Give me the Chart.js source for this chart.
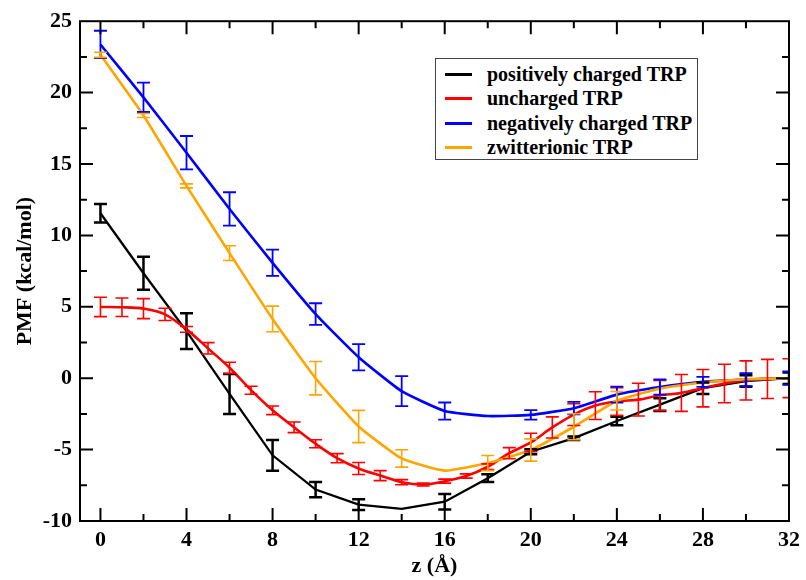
<!DOCTYPE html>
<html>
<head>
<meta charset="utf-8">
<title>PMF profiles</title>
<script src="https://cdn.jsdelivr.net/npm/chart.js@4.4.1/dist/chart.umd.min.js"></script>
<style>
  body { margin: 0; background: #fff; }
  #wrap { position: relative; width: 806px; height: 580px; }
  #legend {
    position: absolute; left: 435px; top: 58px; width: 263px; height: 102px;
    border: 1.5px solid #444; box-sizing: border-box; background: #fff;
    font: bold 20px "Liberation Serif", "Times New Roman", serif; color: #000;
  }
  #legend .row { position: absolute; left: 0; height: 24px; display: flex; align-items: center; white-space: nowrap; }
  #legend .swatch { width: 27px; height: 3px; margin-left: 9px; margin-right: 15px; }
</style>
</head>
<body>
<div id="wrap">
  <canvas id="pmfChart"></canvas>
  <div id="legend"></div>
</div>
<script>
// z positions (Å)
const zCoarse = [0, 2, 4, 6, 8, 10, 12, 14, 16, 18, 20, 22, 24, 26, 28, 30, 32];
const zFine = [0, 1, 2, 3, 4, 5, 6, 7, 8, 9, 10, 11, 12, 13, 14, 15, 16,
               17, 18, 19, 20, 21, 22, 23, 24, 25, 26, 27, 28, 29, 30, 31, 32];

// PMF (kcal/mol) and error half-widths
const positive    = [11.55, 7.35, 3.3, -1.1, -5.4, -7.8, -8.85, -9.15, -8.65, -7.0, -5.15, -4.2, -3.0, -1.85, -0.7, -0.2, 0];
const positiveErr = [0.65, 1.15, 1.25, 1.4, 1.08, 0.53, 0.38, 0, 0.54, 0.27, 0.18, 0.12, 0.3, 0.45, 0.4, 0.4, 0.4];

const uncharged    = [4.99, 4.97, 4.87, 4.47, 3.42, 2.09, 0.73, -0.84, -2.25, -3.44, -4.59, -5.6, -6.32, -6.82, -7.28, -7.45, -7.21,
                      -6.85, -6.2, -5.25, -4.5, -3.45, -2.55, -1.92, -1.63, -1.5, -1.2, -1.03, -0.7, -0.37, -0.16, -0.05, 0];
const unchargedErr = [0.68, 0.65, 0.7, 0.43, 0.2, 0.4, 0.39, 0.28, 0.3, 0.37, 0.28, 0.32, 0.42, 0.35, 0.18, 0.1, 0.14,
                      0.15, 0.2, 0.39, 0.64, 0.74, 0.76, 0.97, 0.97, 1.15, 1.05, 1.29, 1.31, 1.35, 1.37, 1.37, 1.36];

const negative    = [23.37, 19.67, 15.79, 11.85, 8.08, 4.49, 1.47, -0.91, -2.3, -2.65, -2.57, -2.1, -1.15, -0.62, -0.26, -0.1, 0];
const negativeErr = [0.96, 1.03, 1.17, 1.17, 0.92, 0.76, 0.92, 1.05, 0.6, 0, 0.33, 0.44, 0.56, 0.53, 0.35, 0.45, 0.47];

const zwitter    = [22.65, 18.4, 13.47, 8.76, 4.15, 0, -3.38, -5.62, -6.47, -5.94, -5.03, -3.4, -1.58, -0.73, -0.3, -0.07, 0];
const zwitterErr = [0.18, 0.14, 0.14, 0.52, 0.9, 1.17, 1.13, 0.61, 0, 0.53, 0.78, 0.91, 0.65, 0, 0, 0, 0];

const seriesNames  = ['positively charged TRP', 'uncharged TRP', 'negatively charged TRP', 'zwitterionic TRP'];
const seriesColors = ['#000000', '#ff0000', '#0000ff', '#ffa500'];

// axis ticks
const xLabelTicks = [0, 4, 8, 12, 16, 20, 24, 28, 32];
const xAllTicks = [0, 2, 4, 6, 8, 10, 12, 14, 16, 18, 20, 22, 24, 26, 28, 30, 32];
const yLabelTicks = [-10, -5, 0, 5, 10, 15, 20, 25];
const yAllTicks = [-7.5, -5, -2.5, 0, 2.5, 5, 7.5, 10, 12.5, 15, 17.5, 20, 22.5];

const toPoints = (xs, ys) => xs.map((x, i) => ({ x: x, y: ys[i] }));

const serif = '"Liberation Serif", "Times New Roman", serif';

// error bars with caps, drawn on top of the curves
const errorBars = {
  id: 'errorBars',
  afterDatasetsDraw(chart) {
    const { ctx, chartArea: a, scales: { x, y } } = chart;
    ctx.save();
    ctx.beginPath();
    ctx.rect(a.left, a.top, a.right - a.left, a.bottom - a.top);
    ctx.clip();
    chart.data.datasets.forEach(ds => {
      ctx.strokeStyle = ds.borderColor;
      ctx.lineWidth = ds.errWidth;
      ds.data.forEach((p, i) => {
        const e = ds.errors[i];
        if (!e) return;
        const px = x.getPixelForValue(p.x);
        const top = y.getPixelForValue(p.y + e);
        const bot = y.getPixelForValue(p.y - e);
        ctx.beginPath();
        ctx.moveTo(px, top); ctx.lineTo(px, bot);
        ctx.moveTo(px - 6.5, top); ctx.lineTo(px + 6.5, top);
        ctx.moveTo(px - 6.5, bot); ctx.lineTo(px + 6.5, bot);
        ctx.stroke();
      });
    });
    ctx.restore();
  }
};

// box frame with inward ticks on all four sides
const frameTicks = {
  id: 'frameTicks',
  afterDraw(chart) {
    const { ctx, chartArea: a, scales: { x, y } } = chart;
    ctx.save();
    ctx.strokeStyle = '#000';
    ctx.lineWidth = 2;
    ctx.strokeRect(a.left, a.top, a.right - a.left, a.bottom - a.top);
    ctx.beginPath();
    xAllTicks.forEach(v => {
      const px = x.getPixelForValue(v);
      const len = xLabelTicks.includes(v) ? 13 : 7;
      ctx.moveTo(px, a.bottom); ctx.lineTo(px, a.bottom - len);
      ctx.moveTo(px, a.top); ctx.lineTo(px, a.top + len);
    });
    yAllTicks.forEach(v => {
      const py = y.getPixelForValue(v);
      const len = yLabelTicks.includes(v) ? 13 : 7;
      ctx.moveTo(a.left, py); ctx.lineTo(a.left + len, py);
      ctx.moveTo(a.right, py); ctx.lineTo(a.right - len, py);
    });
    ctx.stroke();
    ctx.restore();
  }
};

new Chart(document.getElementById('pmfChart'), {
  type: 'line',
  data: {
    datasets: [
      { label: seriesNames[0], data: toPoints(zCoarse, positive), errors: positiveErr, errWidth: 2.5,
        borderColor: seriesColors[0], borderWidth: 2.3, tension: 0, order: 3 },
      { label: seriesNames[1], data: toPoints(zFine, uncharged), errors: unchargedErr, errWidth: 1.6,
        borderColor: seriesColors[1], borderWidth: 2.6, tension: 0.4, cubicInterpolationMode: 'monotone', order: 2 },
      { label: seriesNames[2], data: toPoints(zCoarse, negative), errors: negativeErr, errWidth: 1.8,
        borderColor: seriesColors[2], borderWidth: 2.6, tension: 0.15, order: 1 },
      { label: seriesNames[3], data: toPoints(zCoarse, zwitter), errors: zwitterErr, errWidth: 1.6,
        borderColor: seriesColors[3], borderWidth: 2.6, tension: 0.15, order: 0 }
    ]
  },
  options: {
    responsive: true,
    maintainAspectRatio: false,
    animation: false,
    elements: { point: { radius: 0 } },
    layout: { padding: { top: 21, right: 12, left: 0, bottom: 0 } },
    plugins: { legend: { display: false }, tooltip: { enabled: false } },
    scales: {
      x: {
        type: 'linear',
        min: -0.95,
        max: 32,
        grid: { display: false, drawTicks: false },
        border: { display: false },
        afterBuildTicks: s => { s.ticks = xLabelTicks.map(v => ({ value: v })); },
        afterFit: s => { s.height = 59; },
        ticks: { color: '#000', padding: 6, maxRotation: 0, font: { family: serif, size: 22, weight: 'bold' } },
        title: { display: true, text: 'z (Å)', color: '#000', padding: { top: 0, bottom: 0 },
                 font: { family: serif, size: 22, weight: 'bold' } }
      },
      y: {
        min: -10,
        max: 25,
        grid: { display: false, drawTicks: false },
        border: { display: false },
        afterBuildTicks: s => { s.ticks = yLabelTicks.map(v => ({ value: v })); },
        afterFit: s => { s.width = 80; },
        ticks: { color: '#000', padding: 8, font: { family: serif, size: 22, weight: 'bold' } },
        title: { display: true, text: 'PMF (kcal/mol)', color: '#000', padding: { top: 12, bottom: 0 },
                 font: { family: serif, size: 22, weight: 'bold' } }
      }
    }
  },
  plugins: [errorBars, frameTicks]
});

// legend box
const legendBox = document.getElementById('legend');
seriesNames.forEach((name, i) => {
  const row = document.createElement('div');
  row.className = 'row';
  row.style.top = (3 + i * 24.5) + 'px';
  row.innerHTML = `<span class="swatch" style="background:${seriesColors[i]}"></span><span>${name}</span>`;
  legendBox.appendChild(row);
});
</script>
</body>
</html>
